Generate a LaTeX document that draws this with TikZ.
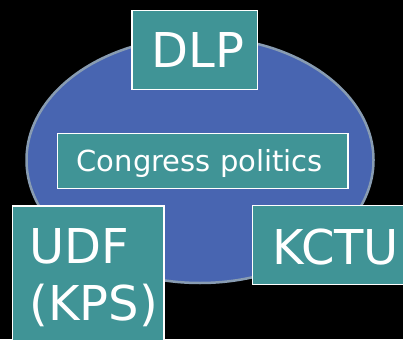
\documentclass[tikz,border=0pt]{standalone}
\usepackage{fontspec}
\setmainfont{DejaVu Sans}
\usetikzlibrary{shapes.geometric}
\definecolor{tealbox}{RGB}{64,148,150}
\definecolor{ovalblue}{RGB}{72,101,177}
\definecolor{ovalrim}{RGB}{136,156,178}
\begin{document}
\begin{tikzpicture}[x=1pt,y=-1pt,
  box/.style={draw=white, line width=1.2pt, fill=tealbox, rectangle, inner sep=0pt},
  lbl/.style={text=white, inner sep=0pt, anchor=base west},
  big/.style={font=\fontsize{48}{58}\selectfont},
  mid/.style={font=\fontsize{29}{35}\selectfont}]
\useasboundingbox (0,0) rectangle (403,339);
\clip (0,0) rectangle (403,339);
\fill[black] (0,0) rectangle (403,339);
\node[ellipse, draw=ovalrim, line width=2.5pt, fill=ovalblue, minimum width=347pt, minimum height=246pt, inner sep=0pt] (oval) at (200,160) {};
\node[box, minimum width=125.5pt, minimum height=78.5pt] (dlpbox) at (194.8,50) {};
\node[box, minimum width=290.7pt, minimum height=55pt] (congbox) at (202.7,160.8) {};
\node[box, minimum width=151.7pt, minimum height=154pt] (udfbox) at (88.2,283) {};
\node[box, minimum width=167.7pt, minimum height=78.6pt] (kctubox) at (336,245) {};
\node[lbl, big] (dlp) at (151.3,67.5) {DLP};
\node[lbl, mid] (cong) at (76.5,171.7) {Congress politics};
\node[lbl, big] (udf) at (29.1,263) {UDF};
\node[lbl, big] (kps) at (29.4,320.7) {(KPS)};
\node[lbl, big] (kctu) at (272,264) {KCTU};
\end{tikzpicture}
\end{document}
